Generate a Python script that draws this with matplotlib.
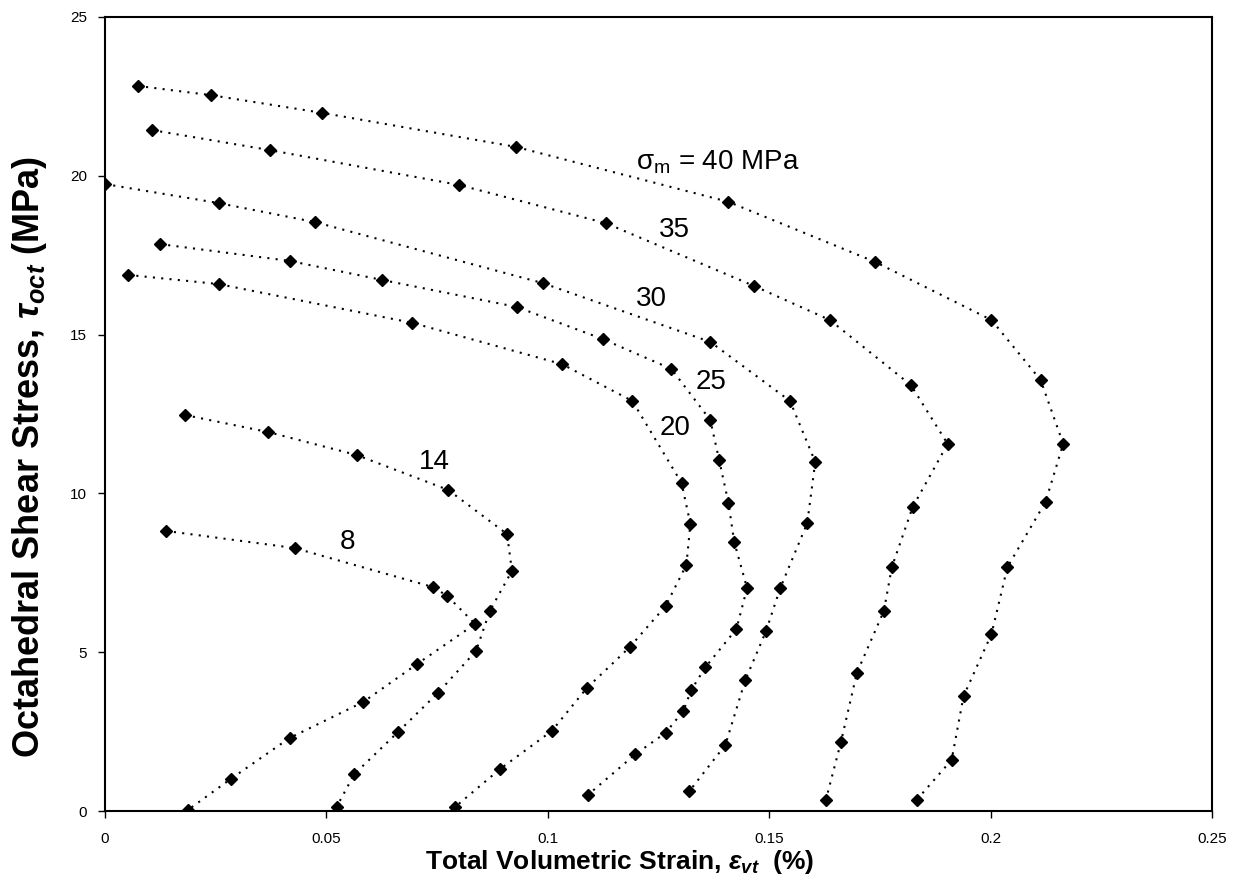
import matplotlib
matplotlib.use('Agg')
import matplotlib.pyplot as plt

plt.rcParams['font.family'] = ['Liberation Sans', 'DejaVu Sans']
plt.rcParams['mathtext.fontset'] = 'custom'
plt.rcParams['mathtext.rm'] = 'Liberation Sans'
plt.rcParams['mathtext.it'] = 'Liberation Sans:italic:bold'
plt.rcParams['mathtext.bf'] = 'Liberation Sans:bold'

# strain (%) and octahedral shear stress (MPa) for each mean stress
x_8 = [0.0137, 0.0428, 0.0741, 0.0773, 0.0836, 0.0705, 0.0583, 0.0417, 0.0284, 0.0187]
y_8 = [8.82, 8.28, 7.05, 6.77, 5.89, 4.63, 3.43, 2.30, 1.01, 0.03]

x_14 = [0.0180, 0.0369, 0.0568, 0.0775, 0.0908, 0.0919, 0.0869, 0.0838, 0.0752, 0.0662, 0.0563, 0.0523]
y_14 = [12.47, 11.93, 11.21, 10.11, 8.72, 7.56, 6.30, 5.04, 3.72, 2.49, 1.16, 0.13]

x_20 = [0.0052, 0.0257, 0.0694, 0.1032, 0.1191, 0.1302, 0.1322, 0.1313, 0.1266, 0.1185, 0.1088, 0.1009, 0.0892, 0.0791]
y_20 = [16.88, 16.59, 15.37, 14.07, 12.91, 10.33, 9.04, 7.75, 6.45, 5.16, 3.87, 2.52, 1.32, 0.13]

x_25 = [0.0124, 0.0417, 0.0626, 0.0930, 0.1124, 0.1279, 0.1367, 0.1387, 0.1408, 0.1421, 0.1450,
        0.1426, 0.1356, 0.1324, 0.1306, 0.1266, 0.1198, 0.1090]
y_25 = [17.85, 17.32, 16.72, 15.87, 14.86, 13.92, 12.31, 11.05, 9.70, 8.47, 7.02,
        5.73, 4.53, 3.81, 3.15, 2.46, 1.79, 0.50]

x_30 = [0.0, 0.0257, 0.0475, 0.0989, 0.1367, 0.1547, 0.1604, 0.1586, 0.1525, 0.1493, 0.1446, 0.1401, 0.1320]
y_30 = [19.74, 19.14, 18.54, 16.62, 14.77, 12.91, 10.99, 9.07, 7.02, 5.67, 4.12, 2.08, 0.63]

x_35 = [0.0106, 0.0372, 0.0800, 0.1131, 0.1466, 0.1637, 0.1820, 0.1903, 0.1824, 0.1777, 0.1759,
        0.1698, 0.1662, 0.1628]
y_35 = [21.44, 20.81, 19.71, 18.51, 16.53, 15.46, 13.41, 11.56, 9.57, 7.68, 6.30,
        4.35, 2.17, 0.35]

x_40 = [0.0074, 0.0239, 0.0491, 0.0928, 0.1408, 0.1739, 0.2002, 0.2113, 0.2164, 0.2124, 0.2038,
        0.2002, 0.1939, 0.1912, 0.1833]
y_40 = [22.83, 22.54, 21.98, 20.91, 19.18, 17.29, 15.46, 13.57, 11.56, 9.73, 7.68,
        5.57, 3.62, 1.61, 0.35]

series = [(x_8, y_8), (x_14, y_14), (x_20, y_20), (x_25, y_25),
          (x_30, y_30), (x_35, y_35), (x_40, y_40)]

# curve labels and where they sit
label_text = ['σ$_{\\mathrm{m}}$ = 40 MPa', '35', '30', '25', '20', '14', '8']
label_x = [0.120, 0.1286, 0.1234, 0.1369, 0.1288, 0.0743, 0.0547]
label_y = [20.43, 18.29, 16.12, 13.51, 12.06, 10.99, 8.47]

xticks = [0, 0.05, 0.1, 0.15, 0.2, 0.25]
xtick_labels = ['0', '0.05', '0.1', '0.15', '0.2', '0.25']
yticks = [0, 5, 10, 15, 20, 25]

fig = plt.figure(figsize=(12.42, 8.96), dpi=100)
ax = fig.add_axes([105/1242, 1-811/896, (1212-105)/1242, (811-17)/896])

for xs, ys in series:
    ax.plot(xs, ys, color='black', linestyle=(0, (1, 3)), linewidth=1.5,
            marker='D', markersize=6, markerfacecolor='black', markeredgecolor='black')

for i, txt in enumerate(label_text):
    ha = 'left' if i == 0 else 'center'
    ax.text(label_x[i], label_y[i], txt, fontsize=20, ha=ha, va='center')

ax.set_xlim(0, 0.25)
ax.set_ylim(0, 25)
ax.set_xticks(xticks)
ax.set_xticklabels(xtick_labels)
ax.set_yticks(yticks)
ax.tick_params(direction='out', length=5, width=1, labelsize=11, colors='black')
ax.tick_params(axis='x', pad=10)
ax.tick_params(axis='y', pad=8)
for sp in ax.spines.values():
    sp.set_linewidth(1.5)

fig.text(620/1242, 1-862/896, r'Total Volumetric Strain, $\varepsilon_{vt}$  (%)',
         fontsize=19, fontweight='bold', ha='center', va='center')
fig.text(30/1242, 1-457/896, r'Octahedral Shear Stress, $\tau_{oct}$ (MPa)',
         fontsize=26, fontweight='bold', ha='center', va='center', rotation=90)

fig.savefig('out.png', dpi=100)
